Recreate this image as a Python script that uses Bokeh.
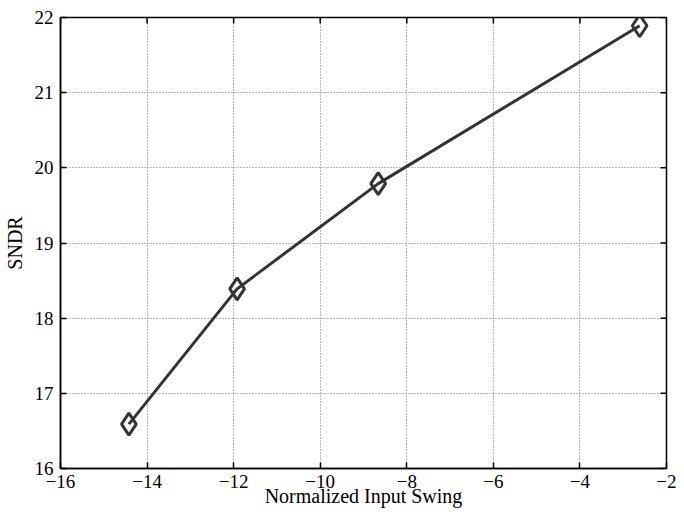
import math
from bokeh.plotting import figure
from bokeh.models import FixedTicker, Range1d
from bokeh.embed import file_html
from bokeh.resources import INLINE

# data
input_swing = [-14.42, -11.92, -8.66, -2.62]
sndr = [16.59, 18.39, 19.79, 21.89]

x_ticks = [-16, -14, -12, -10, -8, -6, -4, -2]
x_tick_labels = ["\u221216", "\u221214", "\u221212", "\u221210", "\u22128", "\u22126", "\u22124", "\u22122"]
y_ticks = [16, 17, 18, 19, 20, 21, 22]
y_tick_labels = ["16", "17", "18", "19", "20", "21", "22"]

FONT = "Liberation Serif"
FS = "19px"
LFS = "20px"

p = figure(width=676, height=509, output_backend="svg", toolbar_location=None,
           x_range=Range1d(x_ticks[0], x_ticks[-1]), y_range=Range1d(y_ticks[0], y_ticks[-1]),
           min_border_left=60, min_border_right=10, min_border_top=17, min_border_bottom=38,
           background_fill_color="white", border_fill_color="white")
p.outline_line_color = "black"
p.outline_line_width = 1.5

for g, t in ((p.xgrid[0], x_ticks), (p.ygrid[0], y_ticks)):
    g.ticker = FixedTicker(ticks=t)
    g.grid_line_color = "#777777"
    g.grid_line_dash = "1 2"
    g.grid_line_width = 1

p.line(input_swing, sndr, line_color="#333333", line_width=3)
p.scatter(input_swing, sndr, marker="diamond", size=22, fill_color=None,
          line_color="#333333", line_width=3)

# inward ticks on the top and right edges of the box
p.ray(x=x_ticks, y=[y_ticks[-1]] * len(x_ticks), length=6, length_units="screen",
      angle=-math.pi / 2, line_color="black", line_width=1.5)
p.ray(x=[x_ticks[-1]] * len(y_ticks), y=y_ticks, length=6, length_units="screen",
      angle=math.pi, line_color="black", line_width=1.5)

def style_axis(ax, ticks, labels):
    ax.ticker = FixedTicker(ticks=ticks)
    ax.major_label_overrides = {t: l for t, l in zip(ticks, labels)}
    ax.minor_tick_line_color = None
    ax.major_tick_in = 6
    ax.major_tick_out = 0
    ax.major_tick_line_color = "black"
    ax.major_tick_line_width = 1.5
    ax.axis_line_color = "black"
    ax.axis_line_width = 1.5
    ax.major_label_text_font = FONT
    ax.major_label_text_font_size = FS
    ax.major_label_text_color = "black"
    ax.axis_label_text_font = FONT
    ax.axis_label_text_font_size = LFS
    ax.axis_label_text_font_style = "normal"
    ax.axis_label_text_color = "black"

xa = p.xaxis[0]
style_axis(xa, x_ticks, x_tick_labels)
xa.axis_label = "Normalized Input Swing"
xa.major_label_standoff = 6
xa.axis_label_standoff = -6

ya = p.yaxis[0]
style_axis(ya, y_ticks, y_tick_labels)
ya.major_label_standoff = 7
ya.axis_label = "SNDR"
ya.axis_label_standoff = 6

open("out.html", "w").write(file_html(p, INLINE))
